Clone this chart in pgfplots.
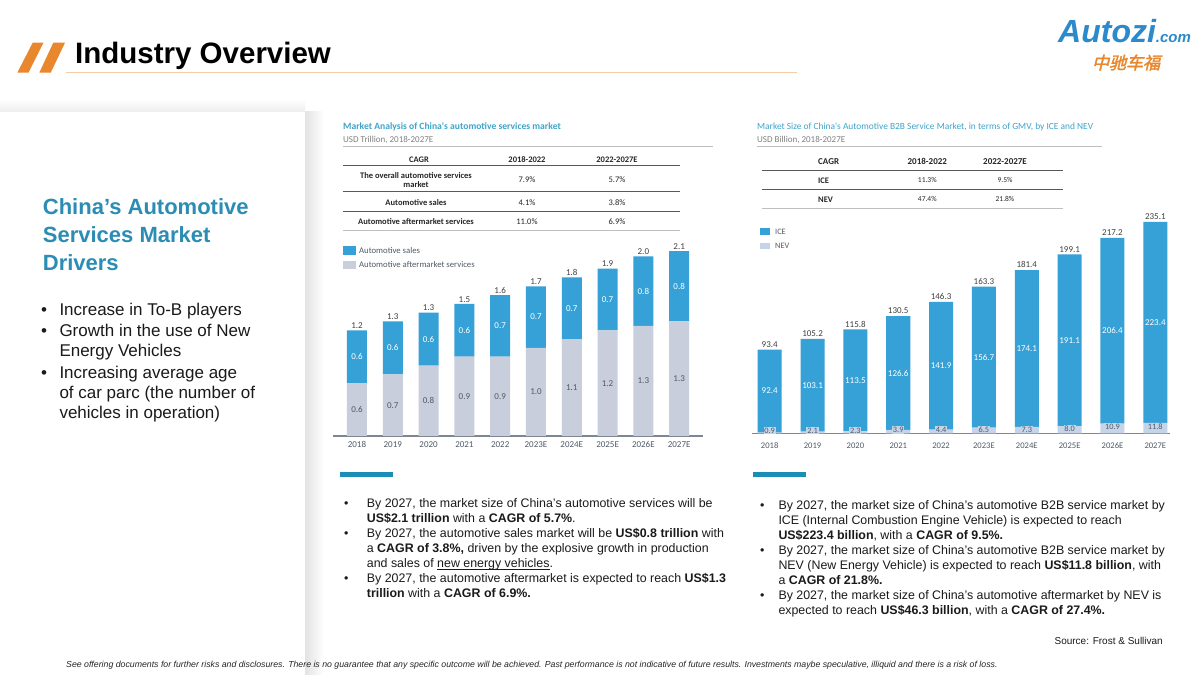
\documentclass[border=0pt]{standalone}
\usepackage{pgfplots}
\pgfplotsset{compat=1.18}
\usepackage{pgfplotstable}
\usepackage{fontspec}
\setmainfont{Liberation Sans}
\newfontfamily\calfont{Carlito}
\newfontfamily\cjk[FakeSlant=0.25,FakeBold=2]{Noto Sans CJK SC}
\definecolor{salesblue}{HTML}{36A1D6}
\definecolor{aftgray}{HTML}{C8CEDB}
\definecolor{nevgray}{HTML}{C6D4EA}
\definecolor{teal1}{HTML}{2B8DB3}
\definecolor{ttl}{HTML}{3FA4CB}
\definecolor{tbar}{HTML}{1C8DB5}
\definecolor{orng}{HTML}{E8872C}
\definecolor{lorng}{HTML}{F4CDA8}
\definecolor{axgray}{HTML}{7D8792}
\definecolor{lblgray}{HTML}{505A66}
\definecolor{txt}{HTML}{1A1A1A}
\definecolor{logoblue}{HTML}{2B8ACB}
\newcommand\fsz[1]{\fontsize{#1}{#1}\selectfont}
\newsavebox\ulbox
\newcommand\ul[1]{\sbox\ulbox{#1}\rlap{\rule[-1.8pt]{\wd\ulbox}{0.7pt}}\usebox\ulbox}

\pgfplotstableread{
x aft sales tot la ls lt
0 0.60 0.60 1.20 0.6 0.6 1.2
1 0.70 0.60 1.30 0.7 0.6 1.3
2 0.80 0.60 1.40 0.8 0.6 1.3
3 0.90 0.60 1.50 0.9 0.6 1.5
4 0.90 0.70 1.60 0.9 0.7 1.6
5 1.00 0.70 1.70 1.0 0.7 1.7
6 1.10 0.70 1.80 1.1 0.7 1.8
7 1.20 0.70 1.90 1.2 0.7 1.9
8 1.25 0.79 2.04 1.3 0.8 2.0
9 1.30 0.80 2.10 1.3 0.8 2.1
}\svc

\pgfplotstableread{
x nev ice tot ny
0 0.9 92.4 93.4 3
1 2.1 103.1 105.2 3
2 2.3 113.5 115.8 3
3 3.9 126.6 130.5 3.9
4 4.4 141.9 146.3 3.9
5 6.5 156.7 163.3 4.6
6 7.3 174.1 181.4 4.6
7 8.0 191.1 199.1 5.3
8 10.9 206.4 217.2 7.5
9 11.8 223.4 235.1 7.5
}\bsm

\tikzset{bw/.style={anchor=base west, inner sep=0pt},
         be/.style={anchor=base east, inner sep=0pt},
         ctr/.style={anchor=center, inner sep=0pt},
         lw/.style={anchor=west, inner sep=0pt}}

\pgfplotsset{
  chartone/.style={
    at={(333pt,239pt)}, anchor=south west,
    scale only axis, width=369.8pt, height=202.6pt,
    xmin=-0.67, xmax=9.66, ymin=0, ymax=2.3,
    enlargelimits=false, clip=false},
  charttwo/.style={
    at={(752pt,241.5pt)}, anchor=south west,
    scale only axis, width=417.9pt, height=234pt,
    xmin=-0.413, xmax=9.34, ymin=0, ymax=260,
    enlargelimits=false, clip=false},
}

\begin{document}
\begin{tikzpicture}[x=1pt,y=1pt]
\fill[white] (0,0) rectangle (1200,675);

% left card with shadow
\shade[left color=black!11, right color=white] (305,675-112) rectangle (324,0);
\shade[bottom color=black!7, top color=white] (0,675-99) rectangle (305,675-112);
\fill[white] (0,675-112) rectangle (305,0);

% header
\fill[orng] (32.7,675-42.7) -- (43.5,675-42.7) -- (28.5,675-72.7) -- (17.3,675-72.7) -- cycle;
\fill[orng] (53.3,675-42.7) -- (65,675-42.7) -- (50.7,675-72.7) -- (39.3,675-72.7) -- cycle;
\draw[lorng, line width=1pt] (66,675-73) -- (797,675-73);
\node[bw] at (75,675-63.3) {\fsz{29.5}\bfseries Industry Overview};

% logo
\node[bw, text=logoblue] at (1058,675-43) {\fsz{32}\bfseries\itshape Autozi{\fsz{15}.com}};
\node[ctr, text=orng] at (1126,675-62.5) {\cjk\fsz{17}中驰车福};

% left text
\node[bw, text=teal1] at (42.7,675-215) {\fsz{22}\bfseries China’s Automotive};
\node[bw, text=teal1] at (42.7,675-243) {\fsz{22}\bfseries Services Market};
\node[bw, text=teal1] at (42.7,675-270.5) {\fsz{22}\bfseries Drivers};
\begin{scope}[every node/.append style={text=txt}]
\node[bw] at (41,675-315.7) {\fsz{17}•};
\node[bw] at (59.3,675-315.7) {\fsz{17}Increase in To-B players};
\node[bw] at (41,675-336.7) {\fsz{17}•};
\node[bw] at (59.3,675-336.7) {\fsz{17}Growth in the use of New};
\node[bw] at (59.3,675-356.9) {\fsz{17}Energy Vehicles};
\node[bw] at (41,675-378.3) {\fsz{17}•};
\node[bw] at (59.3,675-378.3) {\fsz{17}Increasing average age};
\node[bw] at (59.3,675-398.4) {\fsz{17}of car parc (the number of};
\node[bw] at (59.3,675-418.5) {\fsz{17}vehicles in operation)};
\end{scope}

% ===== chart 1 header/table =====
\node[bw, text=ttl] at (343,675-129.8) {\calfont\fsz{9.6}\bfseries Market Analysis of China's automotive services market};
\node[bw, text=gray] at (343,675-142.5) {\calfont\fsz{9}USD Trillion, 2018-2027E};
\draw[black!25, line width=0.8pt] (343,675-146) -- (713,675-146);
\begin{scope}[every node/.append style={font=\calfont\fsz{8.5}, text=black!85}]
\node[ctr] at (419,675-159.3) {\bfseries CAGR};
\node[ctr] at (527,675-159.3) {\bfseries 2018-2022};
\node[ctr] at (617,675-159.3) {\bfseries 2022-2027E};
\node[ctr, align=center] at (416,675-180) {\bfseries The overall automotive services\\[1pt]\bfseries market};
\node[ctr] at (527,675-180) {7.9\%};
\node[ctr] at (617,675-180) {5.7\%};
\node[ctr] at (416,675-202.3) {\bfseries Automotive sales};
\node[ctr] at (527,675-202.3) {4.1\%};
\node[ctr] at (617,675-202.3) {3.8\%};
\node[ctr] at (416,675-221.7) {\bfseries Automotive aftermarket services};
\node[ctr] at (527,675-221.7) {11.0\%};
\node[ctr] at (617,675-221.7) {6.9\%};
\end{scope}
\draw[black!65, line width=1.1pt] (343,675-165.7) -- (680,675-165.7);
\draw[black!65, line width=1.1pt] (343,675-191.7) -- (680,675-191.7);
\draw[black!65, line width=1.1pt] (343,675-211.7) -- (680,675-211.7);
\draw[black!25, line width=0.8pt] (343,675-230.7) -- (680,675-230.7);
% legend 1
\fill[salesblue] (342.7,675-246) rectangle (356,675-255.3);
\node[lw, text=lblgray] at (359,675-250.7) {\calfont\fsz{8.7}Automotive sales};
\fill[aftgray] (342.7,675-260.7) rectangle (356,675-269.3);
\node[lw, text=lblgray] at (359,675-265) {\calfont\fsz{8.7}Automotive aftermarket services};

% chart 1 bars
\begin{axis}[chartone,
  ybar stacked, bar width=20pt,
  axis x line=bottom, axis y line=none, ytick=\empty,
  axis line style={-, draw=axgray, line width=1.1pt},
  xtick={0,...,9},
  xticklabels={2018,2019,2020,2021,2022,2023E,2024E,2025E,2026E,2027E},
  major tick length=0pt,
  xticklabel style={font=\calfont\fsz{9}, text=lblgray, inner sep=0pt, anchor=north, text height=6pt, text depth=0pt, yshift=-5pt},
]
\addplot[fill=aftgray, draw=none] table[x=x,y=aft]{\svc};
\addplot[fill=salesblue, draw=none] table[x=x,y=sales]{\svc};
\end{axis}
\begin{axis}[chartone, hide axis, point meta=explicit symbolic]
\addplot[draw=none, mark=none, nodes near coords, nodes near coords align={center},
  every node near coord/.append style={font=\calfont\fsz{9}, text=lblgray}]
  table[x=x, y expr=\thisrow{aft}/2, meta=la]{\svc};
\addplot[draw=none, mark=none, nodes near coords, nodes near coords align={center},
  every node near coord/.append style={font=\calfont\fsz{9}, text=white}]
  table[x=x, y expr=\thisrow{aft}+\thisrow{sales}/2, meta=ls]{\svc};
\addplot[draw=none, mark=none, nodes near coords,
  every node near coord/.append style={font=\calfont\fsz{9}, text=black!75, inner sep=1.5pt}]
  table[x=x, y=tot, meta=lt]{\svc};
\end{axis}

% ===== chart 2 header/table =====
\node[bw, text=ttl] at (757,675-129.8) {\calfont\fsz{9.4}Market Size of China's Automotive B2B Service Market, in terms of GMV, by ICE and NEV};
\node[bw, text=gray] at (757,675-142.5) {\calfont\fsz{9}USD Billion, 2018-2027E};
\draw[black!25, line width=0.8pt] (757,675-146) -- (1102,675-146);
\begin{scope}[every node/.append style={text=black!85}]
\node[lw] at (818,675-161.7) {\calfont\fsz{9}\bfseries CAGR};
\node[ctr] at (927.3,675-161.7) {\calfont\fsz{9}\bfseries 2018-2022};
\node[ctr] at (1005,675-161.7) {\calfont\fsz{9}\bfseries 2022-2027E};
\node[lw] at (818,675-180.3) {\calfont\fsz{8.5}\bfseries ICE};
\node[ctr] at (927.3,675-180.3) {\calfont\fsz{7.5}11.3\%};
\node[ctr] at (1005,675-180.3) {\calfont\fsz{7.5}9.5\%};
\node[lw] at (818,675-199.3) {\calfont\fsz{8.5}\bfseries NEV};
\node[ctr] at (927.3,675-199.3) {\calfont\fsz{7.5}47.4\%};
\node[ctr] at (1005,675-199.3) {\calfont\fsz{7.5}21.8\%};
\end{scope}
\draw[black!65, line width=1.1pt] (762,675-170.7) -- (1063,675-170.7);
\draw[black!65, line width=1.1pt] (762,675-189.3) -- (1063,675-189.3);
\draw[black!25, line width=0.8pt] (762,675-208.3) -- (1063,675-208.3);
% legend 2
\fill[salesblue] (760,675-228) rectangle (770,675-235);
\node[lw, text=lblgray] at (775,675-231.8) {\calfont\fsz{8.3}ICE};
\fill[nevgray] (760,675-242.7) rectangle (770,675-249.3);
\node[lw, text=lblgray] at (775,675-246) {\calfont\fsz{8.3}NEV};

% chart 2 bars
\begin{axis}[charttwo,
  ybar stacked, bar width=24pt,
  axis x line=bottom, axis y line=none, ytick=\empty,
  axis line style={-, draw=axgray, line width=1.1pt},
  xtick={0,...,9},
  xticklabels={2018,2019,2020,2021,2022,2023E,2024E,2025E,2026E,2027E},
  major tick length=0pt,
  xticklabel style={font=\calfont\fsz{8.6}, text=lblgray, inner sep=0pt, anchor=north, text height=6pt, text depth=0pt, yshift=-9pt},
]
\addplot[fill=nevgray, draw=none] table[x=x,y=nev]{\bsm};
\addplot[fill=salesblue, draw=none] table[x=x,y=ice]{\bsm};
\end{axis}
\begin{axis}[charttwo, hide axis, point meta=explicit symbolic]
\addplot[draw=none, mark=none, nodes near coords, nodes near coords align={center},
  every node near coord/.append style={font=\calfont\fsz{8.3}, text=lblgray, fill=nevgray, inner sep=0.8pt}]
  table[x=x, y=ny, meta=nev]{\bsm};
\addplot[draw=none, mark=none, nodes near coords, nodes near coords align={center},
  every node near coord/.append style={font=\calfont\fsz{9}, text=white}]
  table[x=x, y expr=\thisrow{nev}+\thisrow{ice}/2, meta=ice]{\bsm};
\addplot[draw=none, mark=none, nodes near coords,
  every node near coord/.append style={font=\calfont\fsz{9}, text=black!75, inner sep=2pt}]
  table[x=x, y=tot, meta=tot]{\bsm};
\end{axis}

% small teal bars
\fill[tbar] (339.5,675-472) rectangle (392.7,675-477.3);
\fill[tbar] (752.7,675-471.7) rectangle (805.7,675-477.3);

% bullets chart 1
\begin{scope}[every node/.append style={text=txt, font=\fsz{12.4}}]
\node[bw] at (344,675-507.7) {•};
\node[bw] at (366.7,675-507.7) {By 2027, the market size of China’s automotive services will be};
\node[bw] at (366.7,675-522.7) {\textbf{US\$2.1 trillion} with a \textbf{CAGR of 5.7\%}.};
\node[bw] at (344,675-537.7) {•};
\node[bw] at (366.7,675-537.7) {By 2027, the automotive sales market will be \textbf{US\$0.8 trillion} with};
\node[bw] at (366.7,675-552.7) {a \textbf{CAGR of 3.8\%,} driven by the explosive growth in production};
\node[bw] at (366.7,675-567.7) {and sales of \ul{new energy vehicles}.};
\node[bw] at (344,675-582.7) {•};
\node[bw] at (366.7,675-582.7) {By 2027, the automotive aftermarket is expected to reach \textbf{US\$1.3}};
\node[bw] at (366.7,675-597.7) {\textbf{trillion} with a \textbf{CAGR of 6.9\%.}};
% bullets chart 2
\node[bw] at (760,675-509.3) {•};
\node[bw] at (778.3,675-509.3) {By 2027, the market size of China’s automotive B2B service market by};
\node[bw] at (778.3,675-524.3) {ICE (Internal Combustion Engine Vehicle) is expected to reach};
\node[bw] at (778.3,675-539.3) {\textbf{US\$223.4 billion}, with a \textbf{CAGR of 9.5\%.}};
\node[bw] at (760,675-554.3) {•};
\node[bw] at (778.3,675-554.3) {By 2027, the market size of China’s automotive B2B service market by};
\node[bw] at (778.3,675-569.3) {NEV (New Energy Vehicle) is expected to reach \textbf{US\$11.8 billion}, with};
\node[bw] at (778.3,675-584.3) {a \textbf{CAGR of 21.8\%.}};
\node[bw] at (760,675-599.3) {•};
\node[bw] at (778.3,675-599.3) {By 2027, the market size of China’s automotive aftermarket by NEV is};
\node[bw] at (778.3,675-614.3) {expected to reach \textbf{US\$46.3 billion}, with a \textbf{CAGR of 27.4\%.}};
\end{scope}

\node[be, text=txt] at (1163,675-644.5) {\fsz{10}Source: Frost \& Sullivan};
\node[bw, text=black!85] at (66,675-668) {\fsz{8.75}\itshape See offering documents for further risks and disclosures. There is no guarantee that any specific outcome will be achieved. Past performance is not indicative of future results. Investments maybe speculative, illiquid and there is a risk of loss.};
\end{tikzpicture}
\end{document}
